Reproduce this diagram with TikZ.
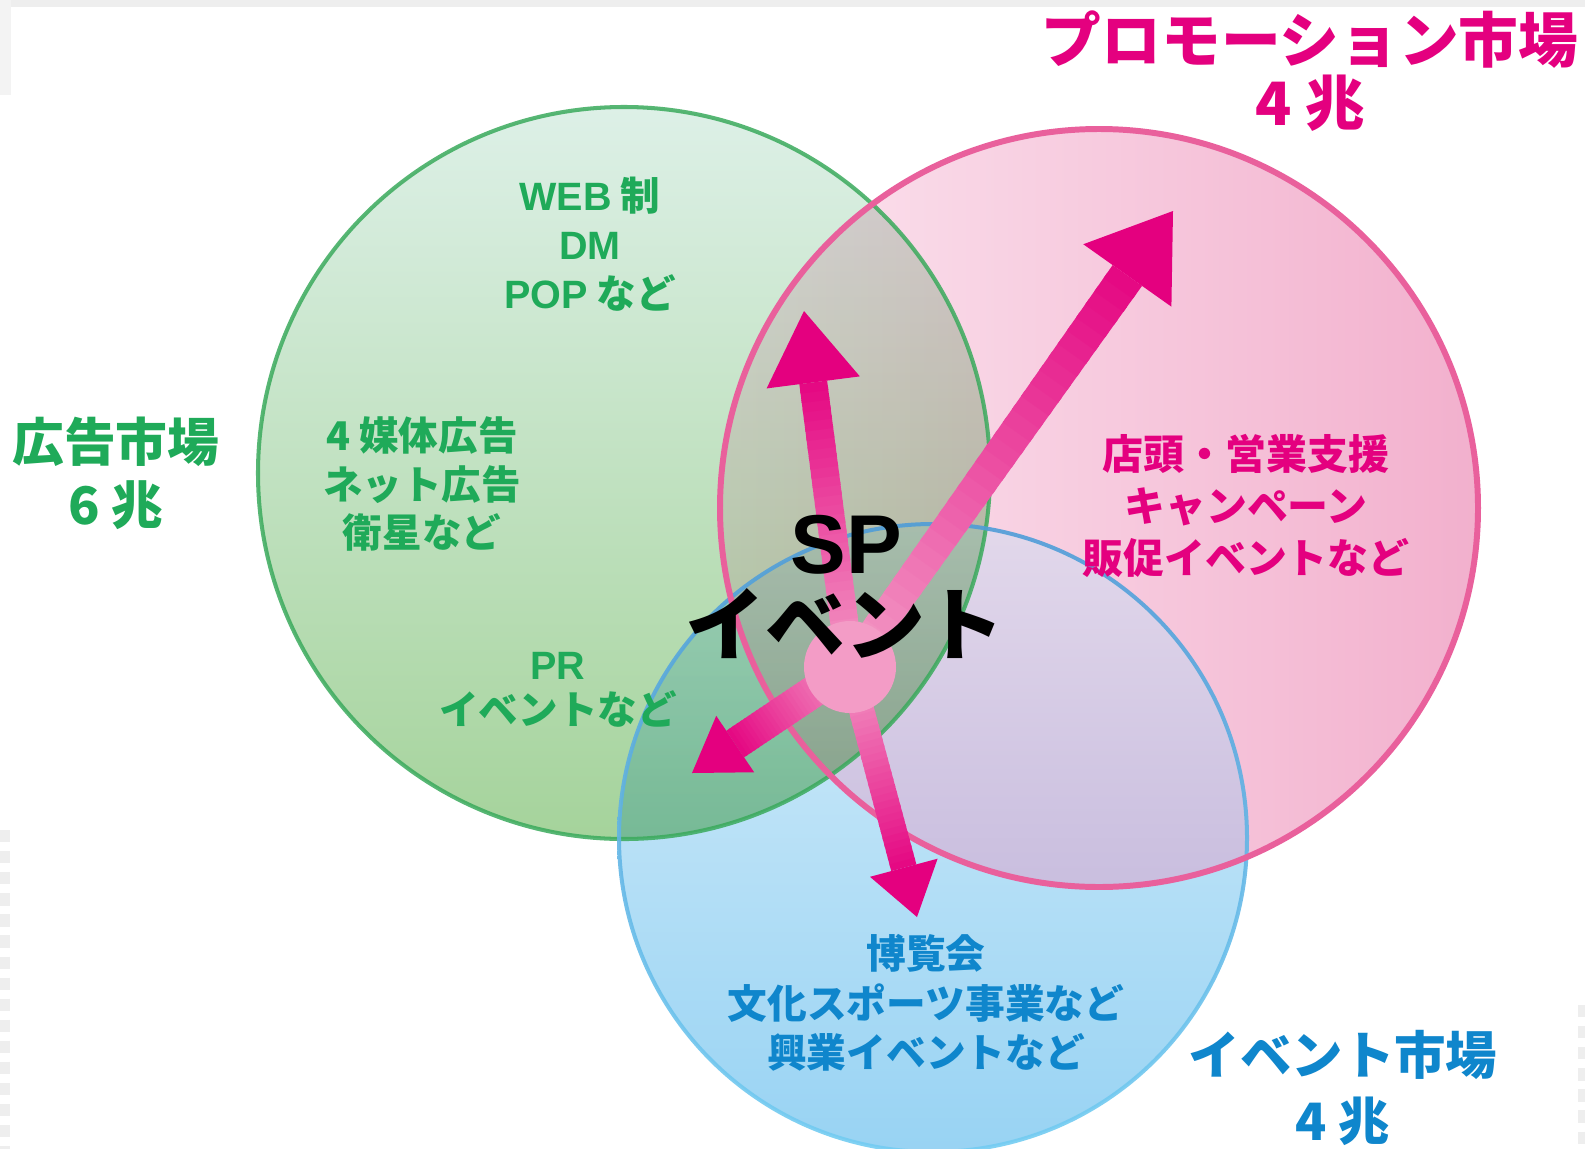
\documentclass[tikz,border=0pt]{standalone}
\usepackage{fontspec}
\newfontfamily\jp{Noto Sans CJK JP}
\newfontfamily\lat{Liberation Sans}
\usetikzlibrary{calc}
\definecolor{gtop}{HTML}{DDF0E7}
\definecolor{gbot}{HTML}{A5D39B}
\definecolor{pleft}{HTML}{FCE6F0}
\definecolor{pright}{HTML}{F2B0CD}
\definecolor{btop}{HTML}{D8EEFA}
\definecolor{bbot}{HTML}{98D3F3}
\definecolor{lavtop}{HTML}{E2D8EB}
\definecolor{lavbot}{HTML}{B7ABD6}
\definecolor{gline}{HTML}{3AAA5C}
\definecolor{pline}{HTML}{E9609C}
\definecolor{blinetop}{HTML}{4F9CD8}
\definecolor{blinebot}{HTML}{74CDF2}
\definecolor{gtext}{HTML}{1FAA59}
\definecolor{ptext}{HTML}{E4007F}
\definecolor{btext}{HTML}{0F86CC}
\definecolor{hubc}{HTML}{F39CC6}
\definecolor{tipc}{HTML}{E4007F}
\definecolor{edgegray}{HTML}{EEEEEE}
\tikzset{
  glabel/.style={text=gtext,font=\jp\bfseries\fontsize{22.5}{27.8}\selectfont,align=center,inner sep=0pt},
  plabel/.style={text=ptext,font=\jp\bfseries\fontsize{23.3}{29.5}\selectfont,align=center,inner sep=0pt},
  blabel/.style={text=btext,font=\jp\bfseries\fontsize{22.6}{28.3}\selectfont,align=center,inner sep=0pt},
  heading/.style={font=\jp\bfseries\fontsize{29.5}{35.7}\selectfont,align=center,inner sep=0pt},
}
\newcommand\latw[1]{{\lat\bfseries\fontsize{22.5}{27.8}\selectfont #1}}
\newcommand\sparrow[5]{%
  \pgfmathsetlengthmacro\sphA{#2*0.02cm}%
  \pgfmathsetlengthmacro\sphB{#3*0.02cm}%
  \pgfmathsetlengthmacro\sphH{#4*0.02cm}%
  \pgfmathsetlengthmacro\sphL{#5*0.02cm}%
  \coordinate (#1-b) at ($(#1)!\sphL!(hub)$);
  \coordinate (#1-sl) at ($(hub)!\sphA!90:(#1)$);
  \coordinate (#1-sr) at ($(hub)!\sphA!-90:(#1)$);
  \coordinate (#1-bl) at ($(#1-b)!\sphB!90:(#1)$);
  \coordinate (#1-br) at ($(#1-b)!\sphB!-90:(#1)$);
  \coordinate (#1-hl) at ($(#1-b)!\sphH!90:(#1)$);
  \coordinate (#1-hr) at ($(#1-b)!\sphH!-90:(#1)$);
  \foreach \i in {0,...,29}{%
    \pgfmathsetmacro\pa{\i/30}%
    \pgfmathsetmacro\pb{min(1,(\i+1.4)/30)}%
    \pgfmathtruncatemacro\pc{round(96*(\i+0.5)/30)}%
    \fill[tipc!\pc!hubc] ($(#1-sl)!\pa!(#1-bl)$) -- ($(#1-sl)!\pb!(#1-bl)$) -- ($(#1-sr)!\pb!(#1-br)$) -- ($(#1-sr)!\pa!(#1-br)$) -- cycle;
  }
  \fill[tipc] (#1-hl) -- (#1) -- (#1-hr) -- cycle;
}
\begin{document}
\begin{tikzpicture}[x=0.02cm,y=-0.02cm]
\useasboundingbox (0,0) rectangle (1585,1149);
\fill[white] (0,0) rectangle (1585,1149);
% scan edges
\fill[edgegray] (0,0) rectangle (1585,7);
\fill[edgegray!70] (0,0) rectangle (11,95);
\draw[edgegray, line width=5.5pt, dash pattern=on 7pt off 5pt] (5,830) -- (5,1149);
\draw[edgegray, line width=4pt, dash pattern=on 7pt off 5pt] (1581,1005) -- (1581,1149);

\coordinate (gc) at (624,473);
\coordinate (pc) at (1099,508);
\coordinate (bc) at (933,838);
\coordinate (hub) at (850,667);
\coordinate (tipU) at (804,311);
\coordinate (tipUR) at (1173,211);
\coordinate (tipLL) at (692,773);
\coordinate (tipD) at (917,917);

% circle fills
\shade[left color=pleft,right color=pright] (pc) circle[radius=379];
\shade[top color=btop,bottom color=bbot] (bc) circle[radius=314];
\begin{scope}
  \clip (pc) circle[radius=379];
  \shade[top color=lavtop,bottom color=lavbot] (bc) circle[radius=314];
\end{scope}
\shade[top color=gtop,bottom color=gbot,blend mode=multiply] (gc) circle[radius=366];
% borders
\draw[gline,line width=2.3pt,opacity=0.85] (gc) circle[radius=366];
\shade[top color=blinetop,bottom color=blinebot,even odd rule,opacity=0.9] (bc) circle[radius=316] (bc) circle[radius=312];
\draw[pline,line width=3.4pt] (pc) circle[radius=379];

% inner labels
\node[glabel] (g1) at (590,244) {\latw{WEB} 制\\\latw{DM}\\\latw{POP} など};
\node[glabel] (g2) at (422,484) {4 媒体広告\\ネット広告\\衛星など};
\node[glabel,font=\jp\bfseries\fontsize{22.5}{25.8}\selectfont] (g3) at (558,690) {\latw{PR}\\イベントなど};
\node[plabel] (p1) at (1246,506) {店頭・営業支援\\キャンペーン\\販促イベントなど};
\node[blabel] (b1) at (926,1003) {博覧会\\文化スポーツ事業など\\興業イベントなど};

% arrows
\sparrow{tipUR}{15}{18}{54}{79}
\sparrow{tipU}{14}{14}{47}{72}
\sparrow{tipLL}{16}{16}{34}{52}
\sparrow{tipD}{12.5}{13}{35}{51}
\fill[hubc] (hub) circle[radius=46];

% centre text
\node[font=\lat\bfseries\fontsize{47.5}{40}\selectfont,inner sep=0pt] (sp) at (846,545) {SP};
\node[font=\jp\bfseries\fontsize{45.5}{40}\selectfont,inner sep=0pt,text height=0.78em,text depth=0.02em] (spev) at (845,648) {イベント};

% headings
\node[heading,text=gtext] (hg) at (116,473) {広告市場\\6 兆};
\node[heading,text=ptext,font=\jp\bfseries\fontsize{34}{35.7}\selectfont] (hp) at (1310,71) {プロモーション市場\\4 兆};
\node[heading,text=btext,font=\jp\bfseries\fontsize{29.3}{38}\selectfont] (hb) at (1343,1088) {イベント市場\\4 兆};
\end{tikzpicture}
\end{document}
